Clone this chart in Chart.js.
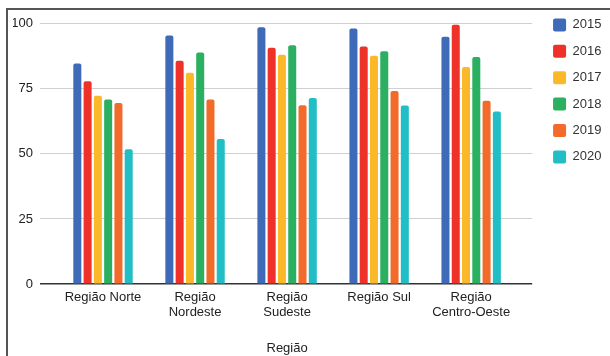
<!DOCTYPE html>
<html lang="pt">
<head>
<meta charset="utf-8">
<title>Região</title>
<script src="https://cdn.jsdelivr.net/npm/chart.js@4"></script>
<style>
  html, body { margin: 0; padding: 0; background: #fff; }
  #moldura { position: absolute; left: 6px; top: 8px; width: 602px; height: 346px; border-left: 2px solid #555; border-top: 2px solid #555; }
  #grafico { display: block; }
</style>
</head>
<body>
<div id="moldura"><canvas id="grafico" width="602" height="346"></canvas></div>
<script>
// Dados
const regioes = [['Região Norte'], ['Região', 'Nordeste'], ['Região', 'Sudeste'], ['Região Sul'], ['Região', 'Centro-Oeste']];
const anos = ['2015', '2016', '2017', '2018', '2019', '2020'];
const cores = ['#3f6ab7', '#ee3129', '#fbb929', '#2bb061', '#f36b2b', '#22bec6'];

const valores2015 = [84.7, 95.4, 98.6, 98.1, 94.9];
const valores2016 = [77.8, 85.7, 90.7, 91.2, 99.5];
const valores2017 = [72.3, 81.1, 88.0, 87.6, 83.3];
const valores2018 = [70.8, 88.9, 91.7, 89.4, 87.1];
const valores2019 = [69.5, 70.8, 68.6, 74.1, 70.4];
const valores2020 = [51.8, 55.7, 71.4, 68.5, 66.2];

const ticksY = [0, 25, 50, 75, 100];

const series = [valores2015, valores2016, valores2017, valores2018, valores2019, valores2020];
const FONTE = "'Liberation Sans', Arial, sans-serif";

Chart.defaults.font.family = FONTE;
Chart.defaults.color = '#222';

// ajusta a legenda para alinhar com a linha do 100
const ajustaLegenda = {
    id: 'ajustaLegenda',
    afterLayout(chart) {
        chart.legend.top -= 5;
        chart.legend.left += 1.5;
    }
};

const corGrade = (ctx) => ctx.tick && ctx.tick.value === 0 ? '#333' : '#d0d0d0';
const larguraGrade = (ctx) => ctx.tick && ctx.tick.value === 0 ? 1.5 : 1;

new Chart(document.getElementById('grafico'), {
    type: 'bar',
    data: {
        labels: regioes,
        datasets: anos.map((ano, i) => ({
            label: ano,
            data: series[i],
            backgroundColor: cores[i],
            borderRadius: 2,
            categoryPercentage: 0.67,
            barPercentage: 0.78
        }))
    },
    options: {
        responsive: false,
        animation: false,
        layout: { padding: { top: 0, left: 5, right: 0, bottom: 0 } },
        scales: {
            x: {
                grid: { display: false, drawTicks: false },
                border: { display: false },
                ticks: { padding: 6, maxRotation: 0, autoSkip: false, font: { size: 13, lineHeight: 1.15 }, color: '#222' },
                title: { display: true, text: 'Região', font: { size: 13, lineHeight: 1.15 }, padding: { top: 15, bottom: 0 }, color: '#222' }
            },
            y: {
                min: 0, max: 100,
                afterBuildTicks: (s) => { s.ticks = ticksY.map(v => ({ value: v })); },
                afterFit: (s) => { s.width = 44; },
                border: { display: false },
                grid: { color: corGrade, tickColor: corGrade, lineWidth: larguraGrade, tickLength: 17 },
                ticks: { padding: 7, font: { size: 13, lineHeight: 1 }, color: '#222' }
            },
            direita: {
                position: 'right',
                min: 0, max: 100,
                afterBuildTicks: (s) => { s.ticks = ticksY.map(v => ({ value: v })); },
                afterFit: (s) => { s.width = 21; },
                border: { display: false },
                grid: { drawOnChartArea: false, tickColor: corGrade, lineWidth: larguraGrade, tickLength: 15 },
                ticks: { display: false }
            }
        },
        plugins: {
            tooltip: { enabled: false },
            legend: {
                position: 'right',
                align: 'start',
                labels: {
                    boxWidth: 13, boxHeight: 13, padding: 13.4,
                    useBorderRadius: true, borderRadius: 2,
                    font: { size: 13 }, color: '#333'
                }
            }
        }
    },
    plugins: [ajustaLegenda]
});
</script>
</body>
</html>
